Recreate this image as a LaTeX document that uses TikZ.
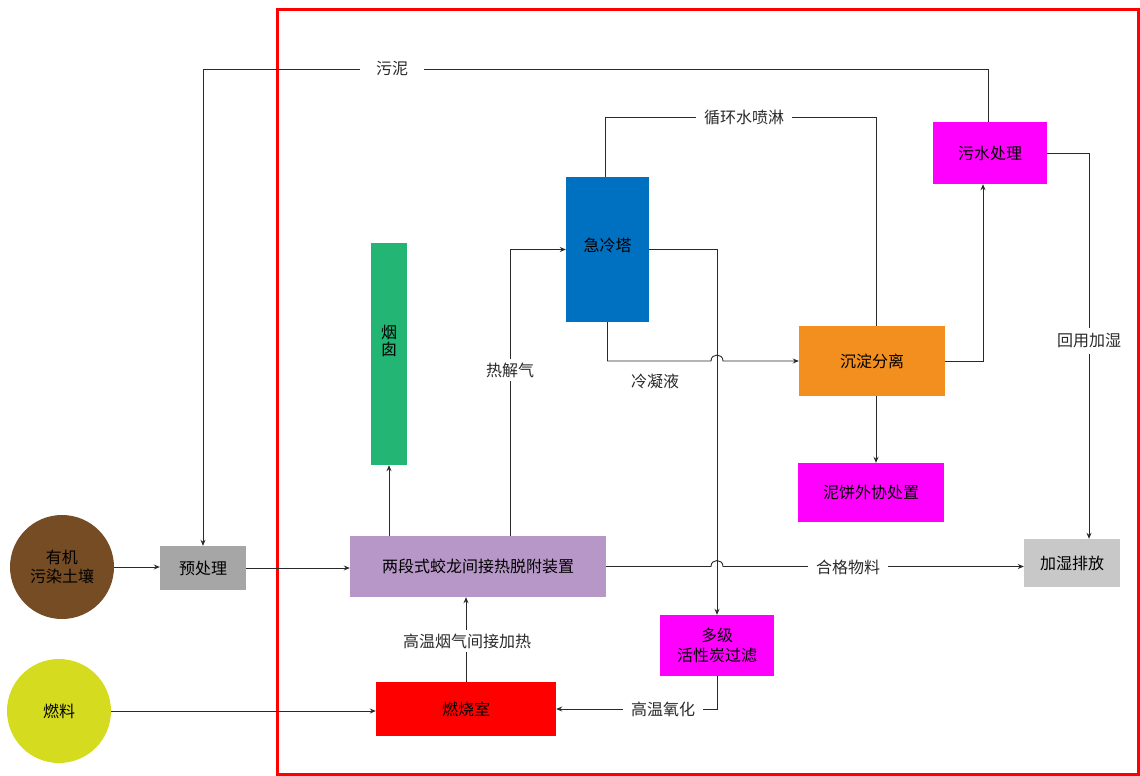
\documentclass[tikz,border=0pt]{standalone}
\usepackage{fontspec}
\newfontfamily\cjk{Noto Sans CJK SC}
\usetikzlibrary{arrows.meta,calc}
\definecolor{soilc}{HTML}{754C24}
\definecolor{fuelc}{HTML}{D5DC1F}
\definecolor{prec}{HTML}{A6A6A6}
\definecolor{tdsc}{HTML}{B797C7}
\definecolor{chimc}{HTML}{23B574}
\definecolor{quenchc}{HTML}{0070C0}
\definecolor{settlec}{HTML}{F28F1E}
\definecolor{magc}{HTML}{FF00FF}
\definecolor{humc}{HTML}{C8C8C8}
\definecolor{linec}{HTML}{2A2A2A}
\begin{document}
\begin{tikzpicture}[x=1pt,y=-1pt,
  every node/.style={font=\cjk\fontsize{16}{19.5}\selectfont, text=black},
  box/.style={draw=none, minimum width=#1, inner sep=0pt, align=center},
  circ/.style={circle, draw=none, minimum size=104pt, inner sep=0pt, align=center},
  lbl/.style={fill=white, inner xsep=8pt, inner ysep=2pt, text=linec},
  conn/.style={draw=linec, line width=0.9pt},
  arr/.style={conn, -{Stealth[length=6pt,width=5pt]}}]
\useasboundingbox (0,0) rectangle (1140,776);
% frame
\draw[red, line width=2.3pt] (277.5,9.5) rectangle (1138.5,774.5);
% nodes
\node[circ, fill=soilc] (soil) at (62,567) {有机\\污染土壤};
\node[circ, fill=fuelc] (fuel) at (59,711) {燃料};
\node[box=86pt, minimum height=44pt, fill=prec] (pre) at (203,568) {预处理};
\node[box=256pt, minimum height=61pt, fill=tdsc] (tds) at (478,566.5) {两段式蛟龙间接热脱附装置};
\node[box=180pt, minimum height=54pt, fill=red] (burn) at (466,709) {燃烧室};
\node[box=36pt, minimum height=222pt, fill=chimc] (chim) at (389,354) {};
\node[align=center, inner sep=0pt, font=\cjk\fontsize{16}{17}\selectfont] (chimt) at (389,341) {烟\\囱};
\node[box=83pt, minimum height=145pt, fill=quenchc] (quench) at (607.5,249.5) {};
\node[inner sep=0pt] (quencht) at (607.5,245) {急冷塔};
\node[box=114pt, minimum height=61pt, fill=magc] (filter) at (717,645.5) {多级\\活性炭过滤};
\node[box=146pt, minimum height=70pt, fill=settlec] (settle) at (872,361) {沉淀分离};
\node[box=146pt, minimum height=59pt, fill=magc] (cake) at (871,492.5) {泥饼外协处置};
\node[box=114pt, minimum height=62pt, fill=magc] (water) at (990,153) {污水处理};
\node[box=96pt, minimum height=48pt, fill=humc] (humid) at (1072,563) {加湿排放};
% helper coordinates
\coordinate (pgx) at (510,0);
\coordinate (rtop) at (876,117);
\coordinate (ltop) at (605,117);
\coordinate (wx) at (983,0);
\coordinate (s1) at (988,69);
\coordinate (hx) at (1089,0);
\coordinate (vx) at (717,0);
% connectors
\draw[arr] (soil.east) -- (soil.east -| pre.west);
\draw[arr] (pre.east) -- (pre.east -| tds.west);
\draw[arr] (fuel.east) -- (fuel.east -| burn.west);
\draw[arr] (burn.north) -- (burn.north |- tds.south);
\draw[arr] (chim.south |- tds.north) -- (chim.south);
\draw[arr] (tds.north -| pgx) -- (pgx |- quench.west) -- (quench.west);
\draw[arr] (quench.east) -| (filter.north);
\draw[arr] (quench.south) -- (quench.south |- settle.west)
  -- ($(vx |- settle.west)+(-6,0)$)
  .. controls ($(vx |- settle.west)+(-6,-8)$) and ($(vx |- settle.west)+(6,-8)$) .. ($(vx |- settle.west)+(6,0)$)
  -- (settle.west);
\draw[conn] (settle.north -| rtop) -- (rtop) -- (ltop) -- (ltop |- quench.north);
\draw[arr] (settle.south -| rtop) -- (cake.north -| rtop);
\draw[arr] (settle.east) -| (wx |- water.south);
\draw[arr] (s1 |- water.north) -- (s1) -| (pre.north);
\draw[arr] (water.east) -| (hx |- humid.north);
\draw[arr] (tds.east) -- ($(vx |- tds.east)+(-6,0)$)
  .. controls ($(vx |- tds.east)+(-6,-8)$) and ($(vx |- tds.east)+(6,-8)$) .. ($(vx |- tds.east)+(6,0)$)
  -- (tds.east -| humid.west);
\draw[arr] (filter.south) |- (burn.east);
% labels
\node[lbl, inner xsep=16pt] (l1) at (392,69) {污泥};
\node[lbl] (l2) at (744,117) {循环水喷淋};
\node[lbl, inner xsep=2pt, inner ysep=4pt] (l3) at (510,370) {热解气};
\node[lbl, inner xsep=2pt] (l4) at (655,381) {冷凝液};
\node[lbl, inner xsep=2pt, inner ysep=6pt] (l5) at (1089,341) {回用加湿};
\node[lbl] (l6) at (848,567) {合格物料};
\node[lbl, inner xsep=2pt, inner ysep=4pt] (l7) at (467,641) {高温烟气间接加热};
\node[lbl] (l8) at (663,709) {高温氧化};
\end{tikzpicture}
\end{document}
